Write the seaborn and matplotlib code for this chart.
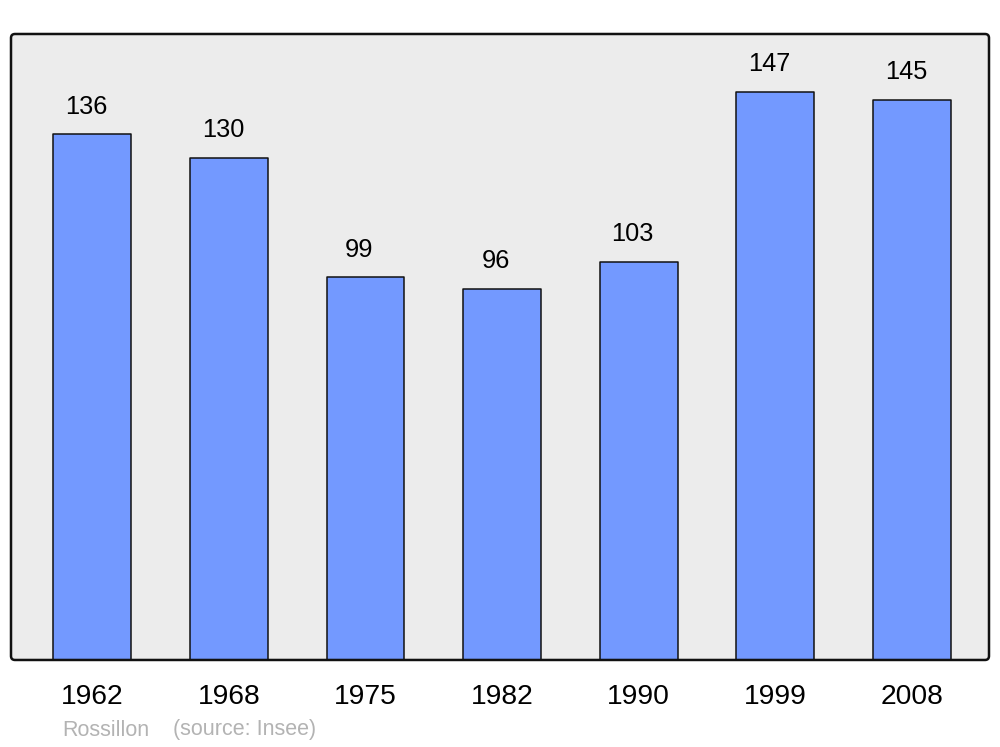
import matplotlib
matplotlib.use("Agg")
import matplotlib.pyplot as plt
from matplotlib.patches import FancyBboxPatch
import seaborn as sns
import pandas as pd

years = ["1962", "1968", "1975", "1982", "1990", "1999", "2008"]
population = [136, 130, 99, 96, 103, 147, 145]
footer_name = "Rossillon"
footer_source = "(source: Insee)"

sns.set_theme(style="white")
plt.rcParams['font.family'] = ['Liberation Sans', 'DejaVu Sans']

fig = plt.figure(figsize=(10, 7.47), dpi=100)
L, B, W, H = 0.011, 0.1165, 0.978, 0.838
ax = fig.add_axes([L, B, W, H])
ax.set_facecolor("none")

bg = FancyBboxPatch((L, B), W, H, boxstyle="round,pad=0,rounding_size=0.004",
                    mutation_aspect=1000/747, transform=fig.transFigure,
                    facecolor="#ececec", edgecolor="none", zorder=-5)
fig.add_artist(bg)
frame = FancyBboxPatch((L, B), W, H, boxstyle="round,pad=0,rounding_size=0.004",
                       mutation_aspect=1000/747, transform=fig.transFigure,
                       facecolor="none", edgecolor="#111111", linewidth=1.8, zorder=10)
fig.add_artist(frame)

df = pd.DataFrame({"year": years, "pop": population})
sns.barplot(data=df, x="year", y="pop", order=years, color="#7399ff", saturation=1,
            width=0.57, edgecolor="#111111", linewidth=1.1, ax=ax)
for p in ax.patches:
    p.set_joinstyle("round")

for i, v in enumerate(population):
    ax.annotate(str(v), (i, v), xytext=(-4.3, 20), textcoords="offset points",
                ha="center", va="center", fontsize=18.3, color="#000000")

ax.set_xlim(-0.595, 6.565)
ax.set_ylim(0, 162)
ax.set_xlabel("")
ax.set_ylabel("")
ax.set_yticks([])
ax.tick_params(axis="x", length=0, pad=17, labelsize=20.3, labelcolor="#000000")
for s in ax.spines.values():
    s.set_visible(False)

fig.text(0.062, 1 - 730/747, footer_name, ha="left", va="center", fontsize=15.5, color="#b3b3b3")
fig.text(0.173, 1 - 730/747, footer_source, ha="left", va="center", fontsize=15.5, color="#b3b3b3")

fig.savefig("out.png", dpi=100)
